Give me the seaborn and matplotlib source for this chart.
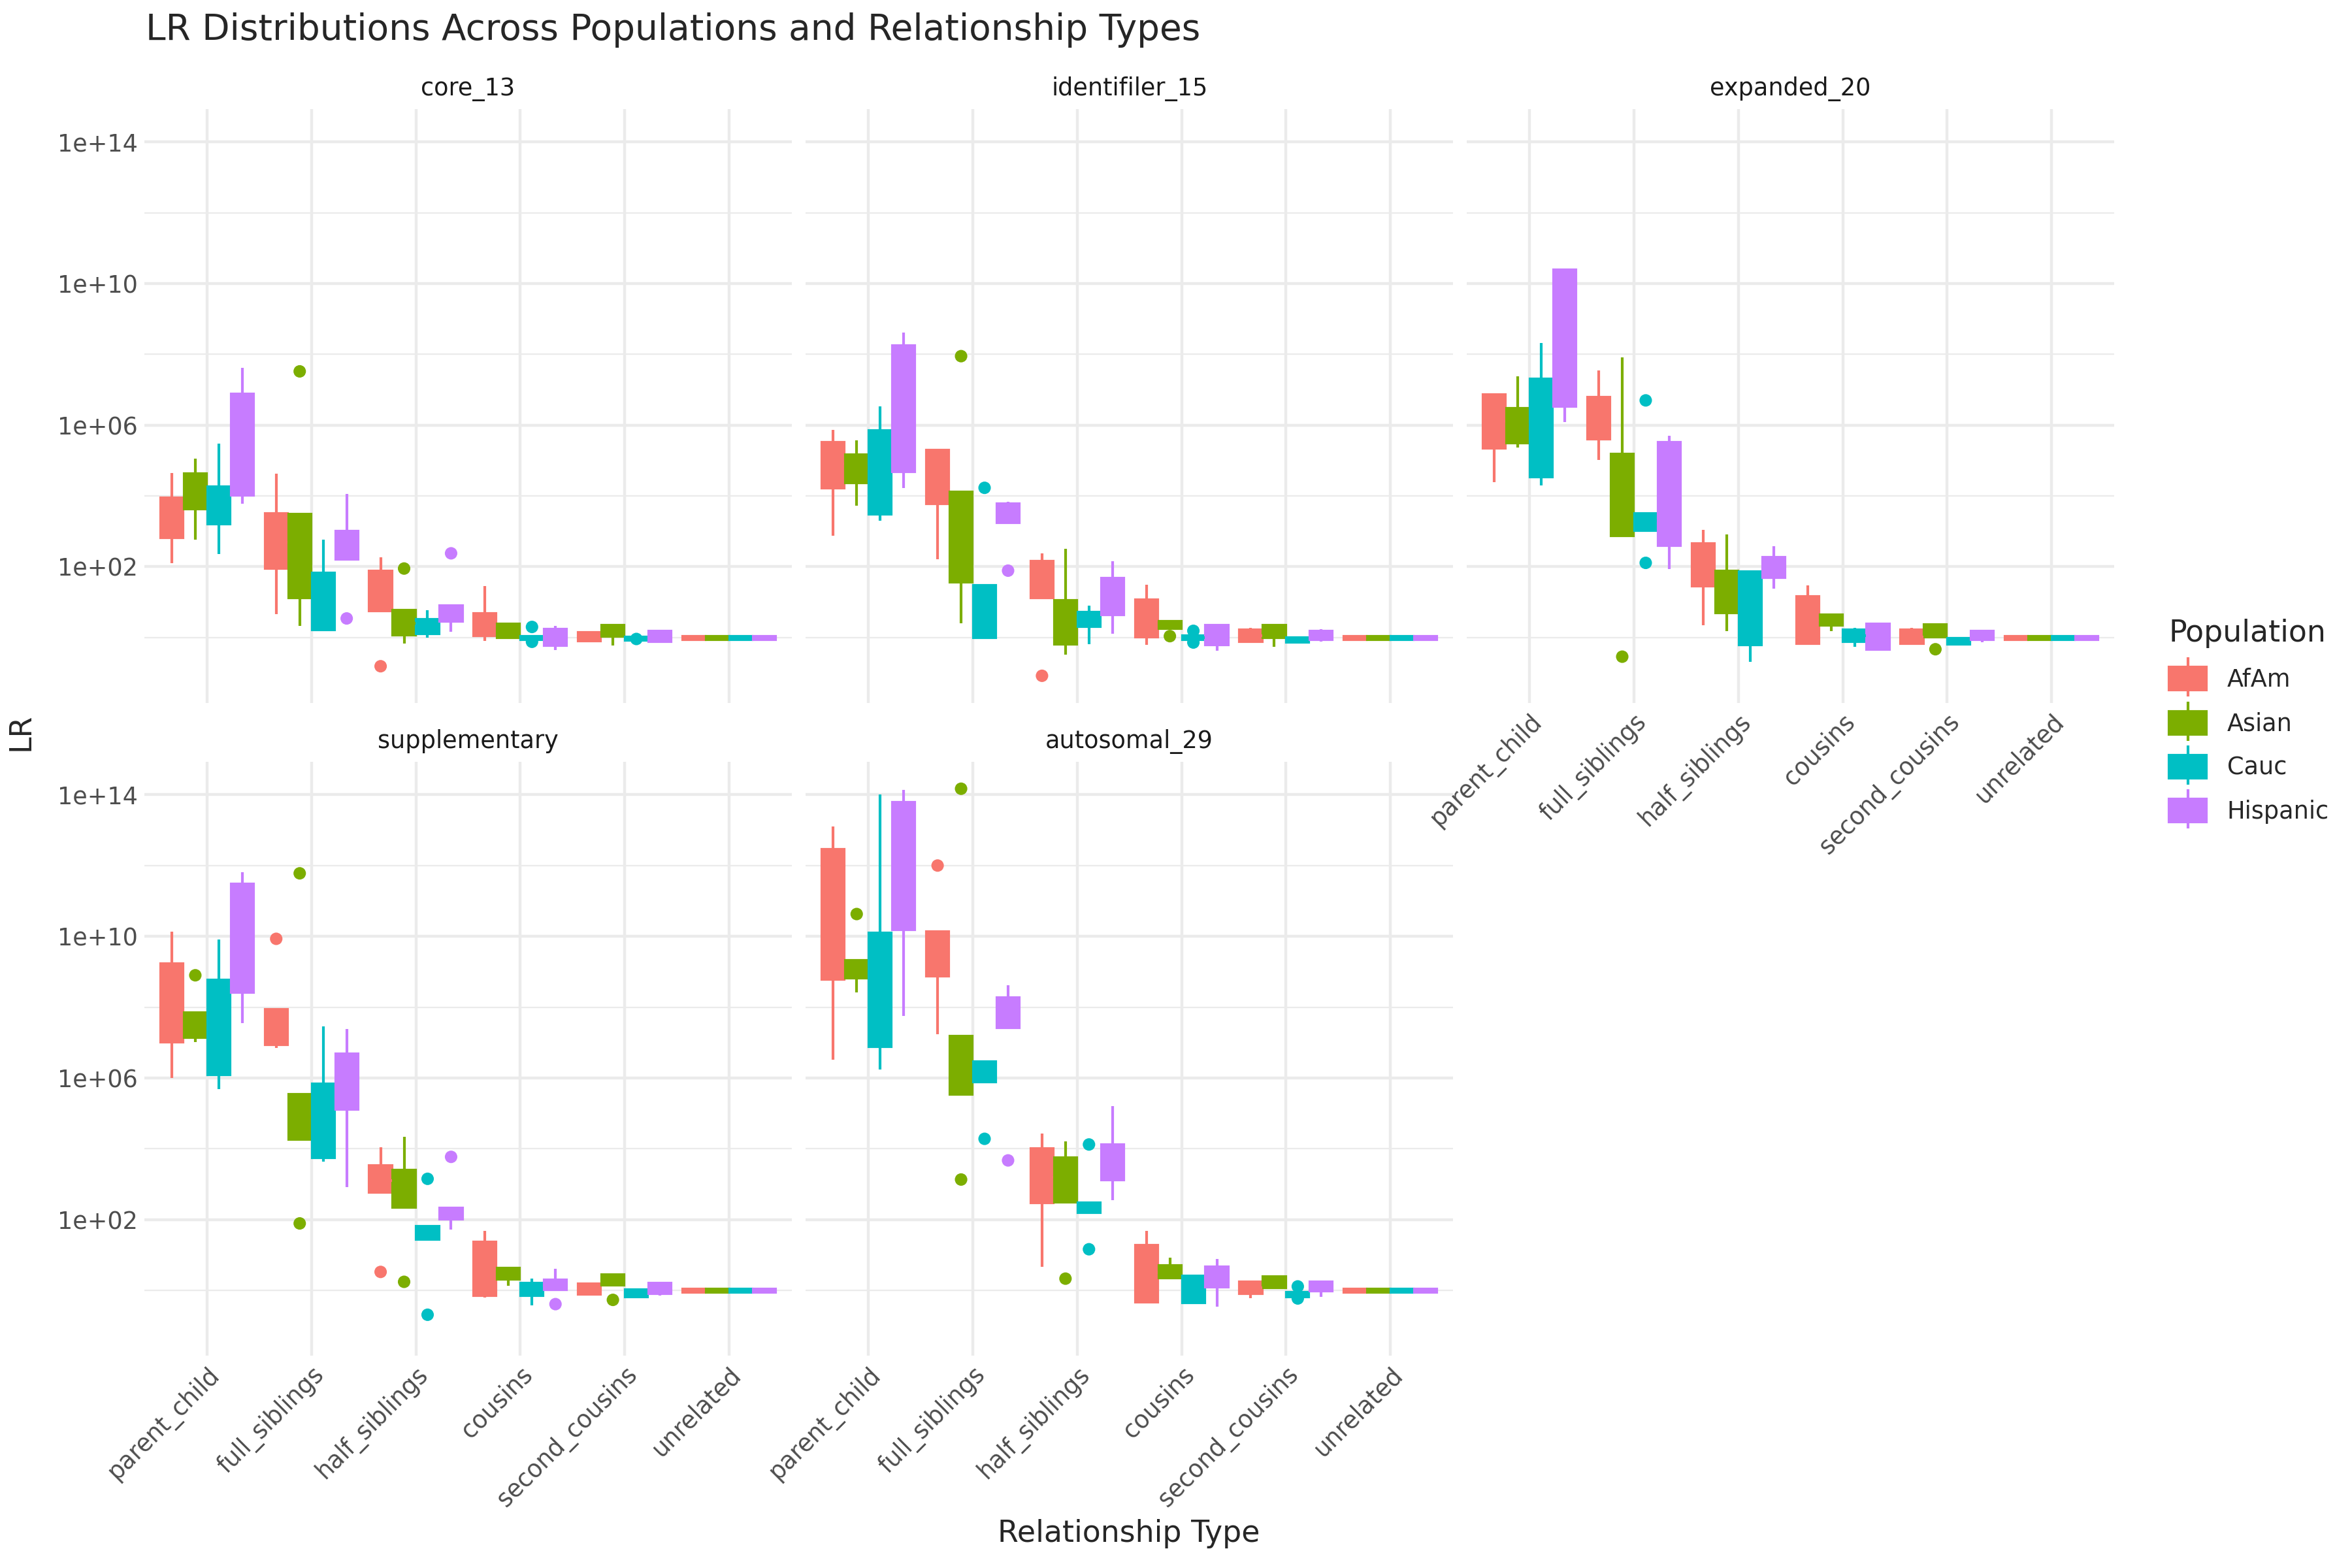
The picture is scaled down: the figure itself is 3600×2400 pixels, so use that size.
import numpy as np
import pandas as pd
import matplotlib
matplotlib.use("Agg")
import matplotlib.pyplot as plt
from matplotlib.lines import Line2D
from matplotlib.patches import Patch
from matplotlib.ticker import FixedLocator, FuncFormatter, NullFormatter
import seaborn as sns

RELATIONSHIPS = ["parent_child", "full_siblings", "half_siblings",
                 "cousins", "second_cousins", "unrelated"]
POPULATIONS = ["AfAm", "Asian", "Cauc", "Hispanic"]
PANELS = ["core_13", "identifiler_15", "expanded_20", "supplementary", "autosomal_29"]
COLORS = ["#F8766D", "#7CAE00", "#00BFC4", "#C77CFF"]

# box summaries in log10(LR): (whisker low, Q1, median, Q3, whisker high)
# 4 rows per relationship, populations in POPULATIONS order
CORE_13 = [
    (2.11, 2.82, 3.40, 3.95, 4.65), (2.77, 3.64, 4.10, 4.63, 5.06),
    (2.36, 3.21, 3.70, 4.27, 5.48), (3.78, 4.02, 5.40, 6.88, 7.62),
    (0.66, 1.96, 2.70, 3.51, 4.63), (0.33, 1.12, 2.30, 3.48, 3.48),
    (0.22, 0.22, 1.00, 1.82, 2.77), (2.22, 2.22, 2.60, 3.01, 4.06),
    (0.76, 0.76, 1.30, 1.88, 2.27), (-0.16, 0.07, 0.40, 0.77, 0.77),
    (0.00, 0.10, 0.30, 0.52, 0.77), (0.16, 0.46, 0.70, 0.91, 0.91),
    (-0.09, 0.05, 0.35, 0.68, 1.45), (-0.01, -0.01, 0.20, 0.38, 0.41),
    (-0.05, -0.05, 0.00, 0.03, 0.03), (-0.36, -0.23, 0.00, 0.24, 0.33),
    (-0.09, -0.09, 0.03, 0.15, 0.15), (-0.22, 0.04, 0.20, 0.35, 0.35),
    (-0.10, -0.08, -0.03, 0.02, 0.02), (-0.11, -0.11, 0.03, 0.18, 0.18),
    (-0.06, -0.05, 0.00, 0.04, 0.05), (-0.06, -0.05, 0.00, 0.04, 0.05),
    (-0.06, -0.05, 0.00, 0.04, 0.05), (-0.06, -0.05, 0.00, 0.04, 0.05),
]
IDENTIFILER_15 = [
    (2.88, 4.23, 4.90, 5.51, 5.86), (3.73, 4.37, 4.80, 5.16, 5.58),
    (3.30, 3.48, 4.60, 5.84, 6.54), (4.23, 4.68, 6.50, 8.25, 8.62),
    (2.21, 3.78, 4.60, 5.29, 5.31), (0.40, 1.56, 2.80, 4.11, 4.11),
    (0.00, 0.00, 0.70, 1.48, 1.48), (3.25, 3.25, 3.50, 3.79, 3.83),
    (1.12, 1.12, 1.60, 2.15, 2.38), (-0.49, -0.18, 0.40, 1.05, 2.51),
    (-0.19, 0.32, 0.50, 0.71, 0.90), (0.11, 0.64, 1.10, 1.67, 2.16),
    (-0.20, 0.02, 0.50, 1.06, 1.50), (0.26, 0.26, 0.35, 0.46, 0.46),
    (-0.06, -0.06, 0.00, 0.05, 0.05), (-0.38, -0.20, 0.10, 0.35, 0.38),
    (-0.11, -0.11, 0.05, 0.22, 0.27), (-0.27, 0.00, 0.20, 0.35, 0.38),
    (-0.14, -0.14, -0.07, 0.00, 0.00), (-0.11, -0.05, 0.07, 0.19, 0.24),
    (-0.06, -0.05, 0.00, 0.04, 0.05), (-0.06, -0.05, 0.00, 0.04, 0.05),
    (-0.06, -0.05, 0.00, 0.04, 0.05), (-0.06, -0.05, 0.00, 0.04, 0.05),
]
EXPANDED_20 = [
    (4.39, 5.35, 6.10, 6.86, 6.86), (5.37, 5.50, 6.00, 6.48, 7.38),
    (4.30, 4.53, 5.90, 7.31, 8.32), (6.09, 6.53, 8.50, 10.38, 10.38),
    (5.02, 5.60, 6.20, 6.79, 7.55), (2.88, 2.88, 4.00, 5.19, 7.91),
    (3.03, 3.03, 3.30, 3.51, 3.51), (1.93, 2.60, 4.00, 5.52, 5.70),
    (0.35, 1.45, 2.00, 2.65, 3.04), (0.19, 0.70, 1.30, 1.88, 2.92),
    (-0.69, -0.20, 0.80, 1.86, 1.86), (1.39, 1.70, 2.00, 2.26, 2.59),
    (-0.16, -0.16, 0.50, 1.16, 1.47), (0.19, 0.35, 0.50, 0.65, 0.65),
    (-0.27, -0.11, 0.05, 0.21, 0.27), (-0.34, -0.34, 0.00, 0.38, 0.38),
    (-0.16, -0.16, 0.02, 0.21, 0.27), (0.02, 0.02, 0.20, 0.37, 0.37),
    (-0.18, -0.18, -0.10, -0.03, -0.03), (-0.14, -0.05, 0.07, 0.19, 0.19),
    (-0.06, -0.05, 0.00, 0.04, 0.05), (-0.06, -0.05, 0.00, 0.04, 0.05),
    (-0.06, -0.05, 0.00, 0.04, 0.05), (-0.06, -0.05, 0.00, 0.04, 0.05),
]
SUPPLEMENTARY = [
    (5.99, 7.01, 8.10, 9.23, 10.13), (7.01, 7.15, 7.50, 7.84, 7.84),
    (5.69, 6.09, 7.40, 8.76, 9.91), (7.55, 8.41, 10.00, 11.48, 11.82),
    (6.85, 6.94, 7.40, 7.94, 7.94), (4.27, 4.27, 4.90, 5.54, 5.54),
    (3.64, 3.74, 4.80, 5.83, 7.45), (2.92, 5.11, 5.90, 6.69, 7.38),
    (2.76, 2.76, 3.10, 3.52, 4.05), (2.34, 2.34, 2.90, 3.39, 4.33),
    (1.43, 1.43, 1.60, 1.80, 1.80), (1.72, 2.02, 2.20, 2.32, 2.32),
    (-0.20, -0.14, 0.60, 1.37, 1.67), (0.12, 0.32, 0.50, 0.63, 0.63),
    (-0.43, -0.14, 0.05, 0.21, 0.33), (0.02, 0.02, 0.15, 0.30, 0.60),
    (-0.11, -0.11, 0.05, 0.19, 0.21), (0.15, 0.15, 0.30, 0.44, 0.44),
    (-0.18, -0.18, -0.08, 0.01, 0.04), (-0.14, -0.09, 0.05, 0.21, 0.21),
    (-0.06, -0.05, 0.00, 0.04, 0.05), (-0.06, -0.05, 0.00, 0.04, 0.05),
    (-0.06, -0.05, 0.00, 0.04, 0.05), (-0.06, -0.05, 0.00, 0.04, 0.05),
]
AUTOSOMAL_29 = [
    (6.52, 8.79, 10.60, 12.46, 13.10), (8.42, 8.82, 9.10, 9.32, 9.32),
    (6.24, 6.88, 8.50, 10.09, 14.00), (7.76, 10.18, 12.00, 13.78, 14.14),
    (7.24, 8.88, 9.50, 10.14, 10.14), (5.54, 5.54, 6.40, 7.17, 7.17),
    (5.89, 5.89, 6.20, 6.46, 6.46), (7.42, 7.42, 7.80, 8.26, 8.62),
    (0.67, 2.48, 3.20, 4.00, 4.43), (2.49, 2.49, 3.10, 3.74, 4.21),
    (2.20, 2.20, 2.35, 2.48, 2.48), (2.54, 3.11, 3.60, 4.11, 5.21),
    (-0.34, -0.34, 0.50, 1.27, 1.68), (0.35, 0.35, 0.50, 0.71, 0.93),
    (-0.39, -0.36, 0.00, 0.41, 0.44), (-0.47, 0.10, 0.40, 0.66, 0.89),
    (-0.22, -0.09, 0.08, 0.24, 0.24), (0.08, 0.08, 0.20, 0.38, 0.43),
    (-0.19, -0.19, -0.12, -0.05, -0.05), (-0.19, -0.01, 0.10, 0.24, 0.24),
    (-0.06, -0.05, 0.00, 0.04, 0.05), (-0.06, -0.05, 0.00, 0.04, 0.05),
    (-0.06, -0.05, 0.00, 0.04, 0.05), (-0.06, -0.05, 0.00, 0.04, 0.05),
]

# outliers: (relationship, population, log10(LR))
CORE_13_OUT = [
    ("full_siblings", "Asian", 7.52), ("full_siblings", "Hispanic", 0.54),
    ("half_siblings", "AfAm", -0.81), ("half_siblings", "Asian", 1.95),
    ("half_siblings", "Hispanic", 2.38), ("cousins", "Cauc", 0.30),
    ("cousins", "Cauc", -0.12), ("second_cousins", "Cauc", -0.04),
]
IDENTIFILER_15_OUT = [
    ("full_siblings", "Asian", 7.95), ("full_siblings", "Cauc", 4.23),
    ("full_siblings", "Hispanic", 1.89), ("half_siblings", "AfAm", -1.08),
    ("cousins", "Asian", 0.04), ("cousins", "Cauc", 0.19), ("cousins", "Cauc", -0.14),
]
EXPANDED_20_OUT = [
    ("full_siblings", "Asian", -0.54), ("full_siblings", "Cauc", 6.70),
    ("full_siblings", "Cauc", 2.11), ("second_cousins", "Asian", -0.33),
]
SUPPLEMENTARY_OUT = [
    ("parent_child", "Asian", 8.90), ("full_siblings", "AfAm", 9.93),
    ("full_siblings", "Asian", 11.78), ("full_siblings", "Asian", 1.89),
    ("half_siblings", "AfAm", 0.52), ("half_siblings", "Asian", 0.24),
    ("half_siblings", "Cauc", 3.15), ("half_siblings", "Cauc", -0.69),
    ("half_siblings", "Hispanic", 3.77), ("cousins", "Hispanic", -0.39),
    ("second_cousins", "Asian", -0.27),
]
AUTOSOMAL_29_OUT = [
    ("parent_child", "Asian", 10.63), ("full_siblings", "AfAm", 12.00),
    ("full_siblings", "Asian", 14.17), ("full_siblings", "Asian", 3.13),
    ("full_siblings", "Cauc", 4.28), ("full_siblings", "Hispanic", 3.67),
    ("half_siblings", "Asian", 0.33), ("half_siblings", "Cauc", 4.12),
    ("half_siblings", "Cauc", 1.16), ("second_cousins", "Cauc", 0.11),
    ("second_cousins", "Cauc", -0.23),
]

BOXES = [CORE_13, IDENTIFILER_15, EXPANDED_20, SUPPLEMENTARY, AUTOSOMAL_29]
OUTLIERS = [CORE_13_OUT, IDENTIFILER_15_OUT, EXPANDED_20_OUT,
            SUPPLEMENTARY_OUT, AUTOSOMAL_29_OUT]

DODGE = 0.9
palette = dict(zip(POPULATIONS, COLORS))

# long tables
box_rows = []
for panel, boxes in zip(PANELS, BOXES):
    for i, stats in enumerate(boxes):
        for v in stats:
            box_rows.append({"panel": panel, "relationship": RELATIONSHIPS[i // 4],
                             "population": POPULATIONS[i % 4], "LR": 10 ** v})
box_df = pd.DataFrame(box_rows)

out_rows = []
for panel, outs in zip(PANELS, OUTLIERS):
    for rel, pop, v in outs:
        xpos = RELATIONSHIPS.index(rel) + (POPULATIONS.index(pop) - 1.5) * DODGE / 4
        out_rows.append({"panel": panel, "population": pop, "xpos": xpos, "LR": 10 ** v})
out_df = pd.DataFrame(out_rows)

all_log = np.log10(pd.concat([box_df["LR"], out_df["LR"]]))
lo, hi = all_log.min(), all_log.max()
pad = 0.05 * (hi - lo)
ylim = (10 ** (lo - pad), 10 ** (hi + pad))

sns.set_style("white")
plt.rcParams["font.family"] = ["DejaVu Sans"]

fig = plt.figure(figsize=(12, 8), dpi=300)
lefts = [0.0614, 0.3426, 0.6237]
w, h = 0.2752, 0.3787
rects = [(lefts[0], 0.5518), (lefts[1], 0.5518), (lefts[2], 0.5518),
         (lefts[0], 0.1355), (lefts[1], 0.1355)]

for k, (panel, (x0, y0)) in enumerate(zip(PANELS, rects)):
    ax = fig.add_axes([x0, y0, w, h])
    ax.set_facecolor("none")
    d = box_df[box_df.panel == panel]
    for pop, col in zip(POPULATIONS, COLORS):
        sns.boxplot(data=d[d.population == pop], x="relationship", y="LR",
                    hue="population", order=RELATIONSHIPS, hue_order=POPULATIONS,
                    palette=palette, dodge=True, width=DODGE, gap=0.05,
                    whis=(0, 100), showfliers=False, log_scale=True,
                    linecolor=col, linewidth=1.0, saturation=1, legend=False,
                    capprops={"visible": False}, ax=ax)
    o = out_df[out_df.panel == panel]
    sns.scatterplot(data=o, x="xpos", y="LR", hue="population",
                    hue_order=POPULATIONS, palette=palette, s=21, linewidth=0,
                    legend=False, ax=ax, zorder=3)

    ax.set_yscale("log")
    ax.set_ylim(*ylim)
    ax.set_xlim(-0.6, len(RELATIONSHIPS) - 0.4)
    ax.yaxis.set_major_locator(FixedLocator([1e2, 1e6, 1e10, 1e14]))
    ax.yaxis.set_minor_locator(FixedLocator([1e0, 1e4, 1e8, 1e12]))
    ax.yaxis.set_major_formatter(FuncFormatter(lambda v, p: f"1e+{int(round(np.log10(v))):02d}"))
    ax.yaxis.set_minor_formatter(NullFormatter())
    ax.set_xticks(range(len(RELATIONSHIPS)))

    ax.grid(which="major", axis="both", color="#EBEBEB", linewidth=1.07)
    ax.grid(which="minor", axis="y", color="#EBEBEB", linewidth=0.53)
    ax.set_axisbelow(True)
    for s in ax.spines.values():
        s.set_visible(False)
    ax.tick_params(which="both", length=0, labelsize=8.8, labelcolor="#4D4D4D", pad=2.5)
    ax.set_xlabel("")
    ax.set_ylabel("")
    ax.set_title(panel, fontsize=8.8, color="#1A1A1A", pad=5)

    if k in (2, 3, 4):
        ax.set_xticklabels(RELATIONSHIPS, rotation=45, ha="right", va="top",
                           rotation_mode="anchor")
    else:
        ax.set_xticklabels([])
    if k not in (0, 3):
        ax.set_yticklabels([])
    if k == 2:
        ax.set_zorder(5)

fig.text(0.0619, 0.981, "LR Distributions Across Populations and Relationship Types",
         fontsize=13.2, ha="left", va="center")
fig.text(0.009, 0.533, "LR", fontsize=11, rotation=90, ha="center", va="center")
fig.text(0.480, 0.022, "Relationship Type", fontsize=11, ha="center", va="center")

handles = [(Line2D([], [], color=c, marker="|", markersize=14.6, markeredgewidth=1.0,
                   linestyle="None"),
            Patch(facecolor=c, edgecolor=c)) for c in COLORS]
fig.legend(handles, POPULATIONS, title="Population", loc="center left",
           bbox_to_anchor=(0.917, 0.54), frameon=False, fontsize=8.8,
           title_fontsize=11, handlelength=1.58, handleheight=1.09,
           labelspacing=0.8, handletextpad=0.85, borderpad=0, alignment="left")

fig.savefig("out.png", dpi=300)
